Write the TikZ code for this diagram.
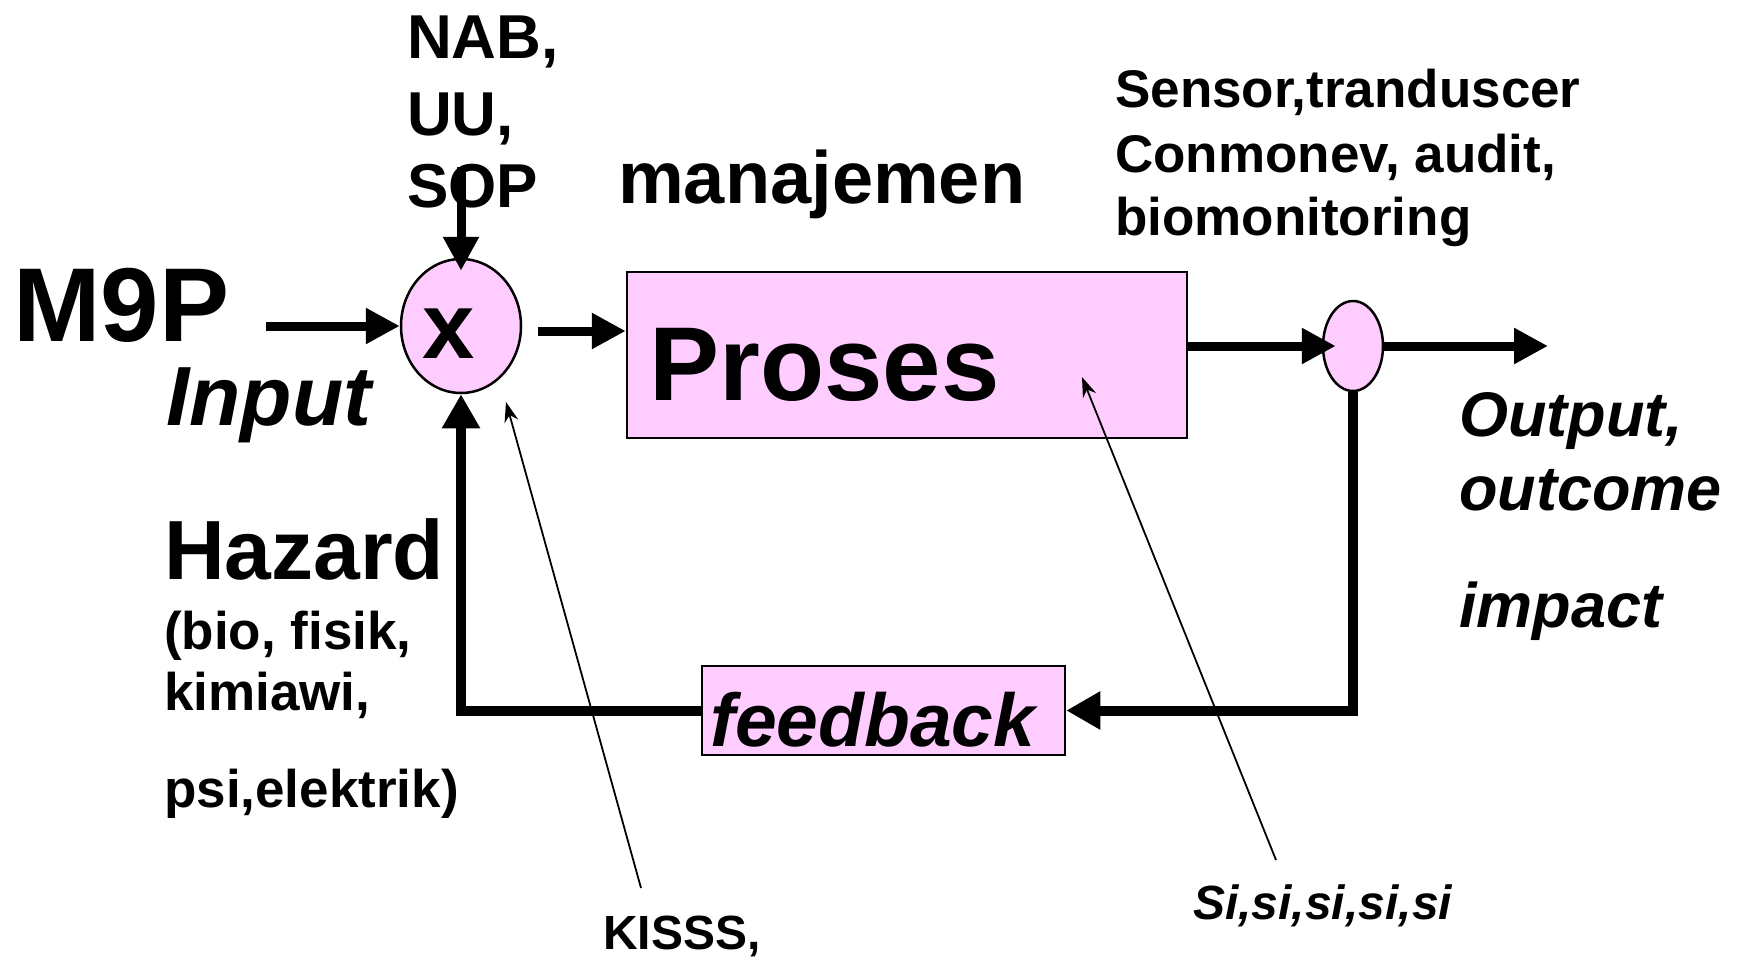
\documentclass[tikz,border=0pt]{standalone}
\usepackage{fontspec}
\setmainfont{Liberation Sans}
\usetikzlibrary{arrows.meta,shapes.geometric}
\definecolor{pinkfill}{HTML}{FFCCFF}
\newcommand{\fsz}[1]{\fontsize{#1}{#1}\selectfont}
\begin{document}
\begin{tikzpicture}[x=1pt,y=-1pt,
  thickarrow/.style={line width=9pt,-{Triangle[length=34pt,width=34pt]}},
  thickline/.style={line width=10pt},
  thinarrow/.style={line width=1.8pt,-{Stealth[length=20pt,width=14pt]}},
  pinkbox/.style={draw,line width=2.5pt,fill=pinkfill,inner sep=0pt},
  lbl/.style={anchor=base west,inner sep=0pt,font=\bfseries},
  ilbl/.style={anchor=base west,inner sep=0pt,font=\bfseries\itshape}]
\useasboundingbox (0,0) rectangle (1740,956);
% shapes
\node[pinkbox,ellipse,minimum width=120pt,minimum height=134pt] (mult) at (461,326) {};
\node[anchor=center,inner sep=0pt,font=\bfseries\fsz{94}] (xsym) at (449,334) {x};
\node[pinkbox,rectangle,minimum width=560pt,minimum height=166pt] (proc) at (907,355) {};
\node[pinkbox,ellipse,minimum width=60pt,minimum height=90pt] (sense) at (1353,346) {};
\node[pinkbox,rectangle,minimum width=363pt,minimum height=89pt] (fb) at (883.5,710.5) {};
% texts
\node[lbl,font=\bfseries\fsz{62}] (nab) at (407,58) {NAB,};
\node[lbl,font=\bfseries\fsz{62}] (uu) at (407,135) {UU,};
\node[lbl,font=\bfseries\fsz{62}] (sop) at (407,207) {SOP};
\node[lbl,font=\bfseries\fsz{74}] (man) at (618,203) {manajemen};
\node[lbl,font=\bfseries\fsz{53}] (sen1) at (1115,107) {Sensor,tranduscer};
\node[lbl,font=\bfseries\fsz{53}] (sen2) at (1115,172) {Conmonev, audit,};
\node[lbl,font=\bfseries\fsz{53}] (sen3) at (1115,235) {biomonitoring};
\node[lbl,font=\bfseries\fsz{105}] (m9p) at (13,341) {M9P};
\node[ilbl,font=\bfseries\itshape\fsz{84}] (inp) at (166,425) {Input};
\node[lbl,font=\bfseries\fsz{84}] (haz) at (164,579) {Hazard};
\node[lbl,font=\bfseries\fsz{53}] (hz1) at (164,649) {(bio, fisik,};
\node[lbl,font=\bfseries\fsz{53}] (hz2) at (164,710) {kimiawi,};
\node[lbl,font=\bfseries\fsz{53}] (hz3) at (164,807) {psi,elektrik)};
\node[lbl,font=\bfseries\fsz{105}] (pros) at (649,400) {Proses};
\node[ilbl,font=\bfseries\itshape\fsz{75}] (fbt) at (710,746) {feedback};
\node[ilbl,font=\bfseries\itshape\fsz{63}] (out1) at (1459,436) {Output,};
\node[ilbl,font=\bfseries\itshape\fsz{63}] (out2) at (1459,510) {outcome};
\node[ilbl,font=\bfseries\itshape\fsz{63}] (out3) at (1459,627) {impact};
\node[lbl,font=\bfseries\fsz{48}] (kiss) at (603,949) {KISSS,};
\node[ilbl,font=\bfseries\itshape\fsz{48}] (si) at (1193,919) {Si,si,si,si,si};
% connectors
\coordinate (inS) at (266,326);
\coordinate (topS) at (461,167);
\coordinate (midS) at (538,331);
\coordinate (outE) at (1548,346);
\coordinate (kissS) at (641,888);
\coordinate (kissE) at (506,402);
\coordinate (siS) at (1276,860);
\coordinate (siE) at (1082,377);
\draw[thickarrow] (inS) -- (mult.west);
\draw[thickarrow,shorten >=-13pt] (topS) -- (mult.north);
\draw[thickarrow] (midS) -- (midS -| proc.west);
\draw[thickarrow,shorten >=-14pt] (proc.east |- sense.west) -- (sense.west);
\draw[thickarrow] (sense.east) -- (outE);
\draw[thickline,-{Triangle[length=34pt,width=36pt]}] (sense.south) |- (fb.east);
\draw[thickline,-{Triangle[length=34pt,width=36pt]}] (fb.west) -| (mult.south);
\draw[thinarrow] (kissS) -- (kissE);
\draw[thinarrow] (siS) -- (siE);
\end{tikzpicture}
\end{document}
